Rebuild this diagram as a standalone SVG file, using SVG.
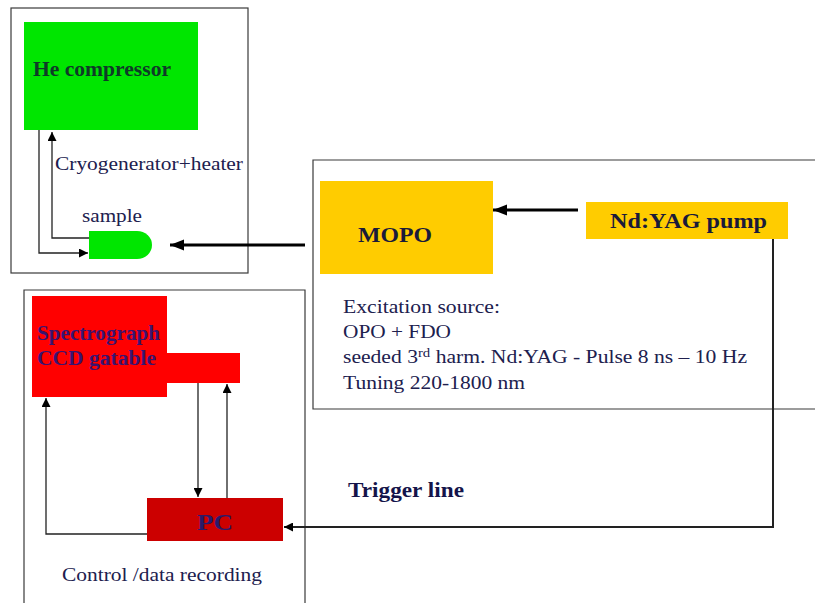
<svg xmlns="http://www.w3.org/2000/svg" width="815" height="603" viewBox="0 0 815 603">
  <style>
    .frame { fill: none; stroke: #3a3a3a; stroke-width: 1.2; }
    .thin { fill: none; stroke: #222; stroke-width: 1.3; }
    .thick { fill: none; stroke: #000; stroke-width: 3.2; }
    .lbl { font-family: "Liberation Serif", "Times New Roman", serif; fill: #20204e; }
    .bold { font-weight: bold; }
  </style>
  <defs>
    <marker id="tip" viewBox="0 0 10 10" refX="10" refY="5" markerWidth="9" markerHeight="9" markerUnits="userSpaceOnUse" orient="auto">
      <path d="M0,0 L10,5 L0,10 z" fill="#000"/>
    </marker>
    <marker id="tipBig" viewBox="0 0 10 10" refX="10" refY="5" markerWidth="14" markerHeight="14" markerUnits="userSpaceOnUse" orient="auto">
      <path d="M0,1 L10,5 L0,9 z" fill="#000"/>
    </marker>
  </defs>

  <rect width="815" height="603" fill="#fff"/>

  <!-- enclosing frames -->
  <g id="frames">
    <rect class="frame" x="11" y="8" width="237" height="265"/>
    <path class="frame" d="M815,160 H313 V409 H815"/>
    <path class="frame" d="M24,603 V290 H305 V603"/>
  </g>

  <!-- cryostat -->
  <g id="he-compressor">
    <rect x="24" y="22" width="174" height="108" fill="#00e600"/>
    <text class="lbl bold" x="33" y="76" font-size="20" style="fill:#0f3a28" textLength="138" lengthAdjust="spacingAndGlyphs">He compressor</text>
  </g>
  <g id="sample">
    <path d="M89,231 H137 A15,14 0 0 1 137,259 H89 Z" fill="#00e600"/>
    <text class="lbl" x="82" y="222" font-size="19" textLength="60" lengthAdjust="spacingAndGlyphs">sample</text>
  </g>
  <text class="lbl" x="55" y="170" font-size="19" textLength="188" lengthAdjust="spacingAndGlyphs">Cryogenerator+heater</text>

  <!-- laser source -->
  <g id="mopo">
    <rect x="320" y="181" width="173" height="93" fill="#ffcc00"/>
    <text class="lbl bold" x="358" y="242" font-size="22" style="fill:#1a1a3a" textLength="74" lengthAdjust="spacingAndGlyphs">MOPO</text>
  </g>
  <g id="ndyag">
    <rect x="586" y="202" width="202" height="37" fill="#ffcc00"/>
    <text class="lbl bold" x="610" y="228" font-size="22" style="fill:#1a1a3a" textLength="157" lengthAdjust="spacingAndGlyphs">Nd:YAG pump</text>
  </g>
  <g id="source-notes" class="lbl" font-size="19">
    <text x="343" y="313" textLength="157" lengthAdjust="spacingAndGlyphs">Excitation source:</text>
    <text x="343" y="338" textLength="108" lengthAdjust="spacingAndGlyphs">OPO + FDO</text>
    <text x="343" y="363" textLength="404" lengthAdjust="spacingAndGlyphs">seeded 3<tspan font-size="13" dy="-6">rd</tspan><tspan dy="6"> harm. Nd:YAG - Pulse 8 ns – 10 Hz</tspan></text>
    <text x="343" y="389" textLength="182" lengthAdjust="spacingAndGlyphs">Tuning 220-1800 nm</text>
  </g>

  <!-- detection -->
  <g id="spectrograph">
    <rect x="32" y="296" width="135" height="101" fill="#ff0000"/>
    <rect x="166" y="353" width="74" height="30" fill="#ff0000"/>
    <text class="lbl bold" x="37" y="340" font-size="20" style="fill:#3a1470" textLength="123" lengthAdjust="spacingAndGlyphs">Spectrograph</text>
    <text class="lbl bold" x="37" y="365" font-size="20" style="fill:#3a1470" textLength="119" lengthAdjust="spacingAndGlyphs">CCD gatable</text>
  </g>
  <g id="pc">
    <rect x="147" y="498" width="136" height="43" fill="#cc0000"/>
    <text class="lbl bold" x="197" y="530" font-size="24" style="fill:#2a1a6a" textLength="36" lengthAdjust="spacingAndGlyphs">PC</text>
  </g>
  <text class="lbl" x="62" y="581" font-size="19" textLength="200" lengthAdjust="spacingAndGlyphs">Control /data recording</text>
  <text class="lbl bold" x="348" y="497" font-size="21" style="fill:#14144a" textLength="116" lengthAdjust="spacingAndGlyphs">Trigger line</text>

  <!-- connectors -->
  <g id="connectors">
    <path class="thin" d="M89,238 H52 V132" marker-end="url(#tip)"/>
    <path class="thin" d="M39,130 V253 H88" marker-end="url(#tip)"/>
    <path class="thick" d="M305,245 H170" marker-end="url(#tipBig)"/>
    <path class="thick" d="M578,210 H493" marker-end="url(#tipBig)"/>
    <path class="thin" d="M198,383 V497" marker-end="url(#tip)"/>
    <path class="thin" d="M227,498 V384" marker-end="url(#tip)"/>
    <path class="thin" d="M147,534 H46 V398" marker-end="url(#tip)"/>
    <path class="thin" style="stroke-width:2" d="M773,239 V527 H284" marker-end="url(#tip)"/>
  </g>
</svg>
